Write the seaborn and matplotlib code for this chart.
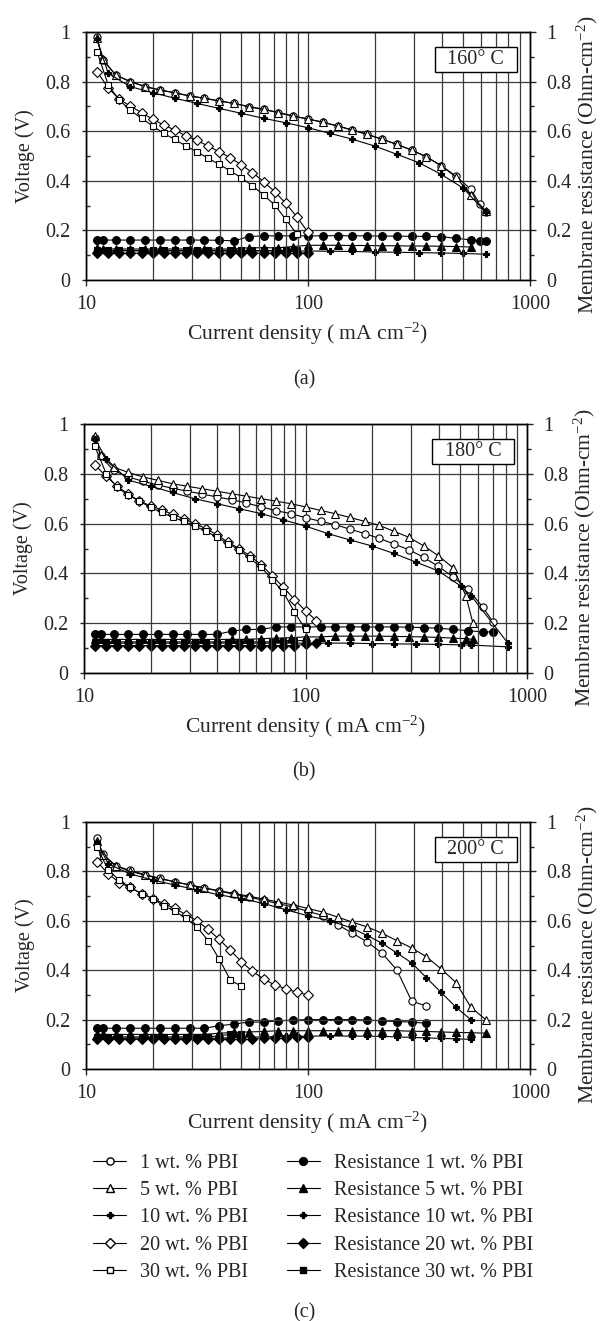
import matplotlib
matplotlib.use("Agg")
import matplotlib.pyplot as plt
import seaborn as sns
from matplotlib.lines import Line2D
from matplotlib.patches import Rectangle
from matplotlib.ticker import MultipleLocator, LogLocator, NullFormatter, FixedLocator

# ---------------- data ----------------
labels_v = ["1 wt. % PBI", "5 wt. % PBI", "10 wt. % PBI", "20 wt. % PBI", "30 wt. % PBI"]
labels_r = ["Resistance " + s for s in labels_v]
temps = ["160° C", "180° C", "200° C"]
captions = ["(a)", "(b)", "(c)"]

# panel (a) 160 C
a_x1 = [11.2, 11.9, 13.6, 15.8, 18.5, 21.5, 25.1, 29.3, 34.1, 39.8, 46.4, 54.1, 63.1, 73.6, 85.8,
        100, 117, 136, 158, 185, 215, 251, 293, 341, 398, 464, 541, 596, 631]
a_v1 = [0.98, 0.887, 0.827, 0.80, 0.78, 0.766, 0.755, 0.742, 0.733, 0.722, 0.712, 0.699, 0.688, 0.675, 0.661,
        0.649, 0.636, 0.621, 0.605, 0.587, 0.568, 0.547, 0.524, 0.497, 0.461, 0.419, 0.366, 0.306, 0.273]
a_r1 = [0.161, 0.161, 0.161, 0.161, 0.161, 0.161, 0.161, 0.161, 0.161, 0.16, 0.158, 0.175, 0.178, 0.178, 0.178,
        0.178, 0.178, 0.179, 0.178, 0.178, 0.177, 0.177, 0.176, 0.176, 0.175, 0.168, 0.162, 0.158, 0.158]
a_x5 = [11.2, 11.9, 13.6, 15.8, 18.5, 21.5, 25.1, 29.3, 34.1, 39.8, 46.4, 54.1, 63.1, 73.6, 85.8,
        100, 117, 136, 158, 185, 215, 251, 293, 341, 398, 464, 541, 631]
a_v5 = [0.975, 0.89, 0.827, 0.80, 0.78, 0.766, 0.755, 0.742, 0.733, 0.722, 0.712, 0.699, 0.688, 0.675, 0.661,
        0.649, 0.636, 0.621, 0.605, 0.587, 0.568, 0.547, 0.524, 0.497, 0.461, 0.415, 0.343, 0.28]
a_r5 = [0.128, 0.127, 0.125, 0.125, 0.125, 0.125, 0.125, 0.125, 0.125, 0.125, 0.125, 0.13, 0.13, 0.13, 0.135,
        0.14, 0.14, 0.14, 0.139, 0.139, 0.138, 0.138, 0.137, 0.137, 0.136, 0.135, 0.133]
a_x10 = [11.2, 12.6, 15.8, 20.0, 25.1, 31.6, 39.8, 50.1, 63.1, 79.4, 100, 126, 158, 200, 251, 316, 398, 501, 631]
a_v10 = [0.97, 0.833, 0.78, 0.755, 0.733, 0.712, 0.692, 0.672, 0.652, 0.634, 0.614, 0.591, 0.568, 0.540,
         0.507, 0.473, 0.426, 0.37, 0.273]
a_r10 = [0.12, 0.118, 0.118, 0.117, 0.117, 0.117, 0.117, 0.117, 0.117, 0.117, 0.117, 0.116, 0.115, 0.113,
         0.112, 0.11, 0.109, 0.107, 0.104]
a_x20 = [11.2, 12.6, 14.1, 15.8, 17.8, 20.0, 22.4, 25.1, 28.2, 31.6, 35.5, 39.8, 44.7, 50.1, 56.2, 63.1,
         70.8, 79.4, 89.1, 100]
a_v20 = [0.84, 0.775, 0.729, 0.702, 0.675, 0.648, 0.625, 0.605, 0.581, 0.563, 0.540, 0.517, 0.493, 0.464,
         0.433, 0.397, 0.356, 0.309, 0.255, 0.192]
a_r20 = [0.108, 0.108, 0.108, 0.108, 0.108, 0.108, 0.108, 0.108, 0.108, 0.108, 0.108, 0.108, 0.108, 0.108,
         0.108, 0.108, 0.108, 0.108, 0.108, 0.11]
a_x30 = [11.2, 12.6, 14.1, 15.8, 17.8, 20.0, 22.4, 25.1, 28.2, 31.6, 35.5, 39.8, 44.7, 50.1, 56.2, 63.1,
         70.8, 79.4, 89.1]
a_v30 = [0.921, 0.786, 0.726, 0.685, 0.652, 0.621, 0.591, 0.567, 0.540, 0.517, 0.491, 0.466, 0.44, 0.412,
         0.38, 0.343, 0.302, 0.245, 0.185]
a_r30 = [0.12, 0.12, 0.12, 0.12, 0.12, 0.12, 0.12, 0.12, 0.12, 0.12, 0.12, 0.12, 0.12, 0.12, 0.12, 0.12,
         0.12, 0.12, 0.12]

# panel (b) 180 C
b_x1 = [11.2, 11.9, 13.6, 15.8, 18.5, 21.5, 25.1, 29.3, 34.1, 39.8, 46.4, 54.1, 63.1, 73.6, 85.8,
        100, 117, 136, 158, 185, 215, 251, 293, 341, 398, 464, 541, 631, 705]
b_v1 = [0.944, 0.87, 0.814, 0.787, 0.77, 0.755, 0.742, 0.73, 0.719, 0.707, 0.696, 0.683, 0.667, 0.652, 0.64,
        0.624, 0.609, 0.596, 0.578, 0.56, 0.541, 0.518, 0.495, 0.465, 0.428, 0.386, 0.337, 0.265, 0.203]
b_r1 = [0.155, 0.155, 0.155, 0.155, 0.155, 0.155, 0.155, 0.155, 0.155, 0.155, 0.168, 0.175, 0.175, 0.185, 0.185,
        0.185, 0.185, 0.185, 0.185, 0.185, 0.185, 0.185, 0.184, 0.182, 0.18, 0.175, 0.17, 0.165, 0.165]
b_x5 = [11.2, 11.9, 13.6, 15.8, 18.5, 21.5, 25.1, 29.3, 34.1, 39.8, 46.4, 54.1, 63.1, 73.6, 85.8,
        100, 117, 136, 158, 185, 215, 251, 293, 341, 398, 464, 530, 570]
b_v5 = [0.95, 0.875, 0.827, 0.806, 0.787, 0.774, 0.76, 0.75, 0.74, 0.73, 0.72, 0.71, 0.70, 0.69, 0.68,
        0.667, 0.653, 0.64, 0.625, 0.609, 0.593, 0.569, 0.545, 0.511, 0.471, 0.422, 0.31, 0.20]
b_r5 = [0.135, 0.135, 0.135, 0.135, 0.135, 0.135, 0.135, 0.135, 0.135, 0.135, 0.135, 0.135, 0.138, 0.14, 0.142,
        0.145, 0.145, 0.148, 0.148, 0.148, 0.148, 0.147, 0.146, 0.145, 0.143, 0.14, 0.138, 0.135]
b_x10 = [11.2, 12.6, 15.8, 20.0, 25.1, 31.6, 39.8, 50.1, 63.1, 79.4, 100, 126, 158, 200, 251, 316, 398, 501,
         560, 820]
b_v10 = [0.94, 0.86, 0.775, 0.75, 0.725, 0.70, 0.68, 0.66, 0.64, 0.615, 0.59, 0.56, 0.535, 0.51, 0.48,
         0.445, 0.41, 0.35, 0.31, 0.12]
b_r10 = [0.12, 0.12, 0.12, 0.12, 0.12, 0.12, 0.12, 0.12, 0.12, 0.12, 0.12, 0.12, 0.12, 0.118, 0.117,
         0.116, 0.115, 0.113, 0.112, 0.105]
b_x20 = [11.2, 12.6, 14.1, 15.8, 17.8, 20.0, 22.4, 25.1, 28.2, 31.6, 35.5, 39.8, 44.7, 50.1, 56.2, 63.1,
         70.8, 79.4, 89.1, 100, 112]
b_v20 = [0.835, 0.79, 0.75, 0.72, 0.69, 0.672, 0.655, 0.637, 0.62, 0.60, 0.58, 0.555, 0.525, 0.50, 0.47,
         0.435, 0.39, 0.345, 0.295, 0.25, 0.21]
b_r20 = [0.11, 0.11, 0.11, 0.11, 0.11, 0.11, 0.11, 0.11, 0.11, 0.11, 0.11, 0.11, 0.11, 0.11, 0.11, 0.11,
         0.11, 0.11, 0.11, 0.115, 0.12]
b_x30 = [11.2, 12.6, 14.1, 15.8, 17.8, 20.0, 22.4, 25.1, 28.2, 31.6, 35.5, 39.8, 44.7, 50.1, 56.2, 63.1,
         70.8, 79.4, 89.1, 100]
b_v30 = [0.91, 0.80, 0.745, 0.715, 0.69, 0.665, 0.645, 0.625, 0.61, 0.59, 0.57, 0.545, 0.52, 0.495, 0.46,
         0.425, 0.375, 0.325, 0.245, 0.175]
b_r30 = [0.125, 0.125, 0.125, 0.125, 0.125, 0.125, 0.125, 0.125, 0.125, 0.125, 0.125, 0.125, 0.125, 0.125,
         0.125, 0.125, 0.125, 0.13, 0.13, 0.13]

# panel (c) 200 C
c_x1 = [11.2, 11.9, 13.6, 15.8, 18.5, 21.5, 25.1, 29.3, 34.1, 39.8, 46.4, 54.1, 63.1, 73.6, 85.8,
        100, 117, 136, 158, 185, 215, 251, 293, 341]
c_v1 = [0.935, 0.872, 0.823, 0.804, 0.787, 0.772, 0.758, 0.745, 0.733, 0.72, 0.708, 0.696, 0.683, 0.669, 0.656,
        0.638, 0.621, 0.584, 0.551, 0.514, 0.47, 0.402, 0.275, 0.255]
c_r1 = [0.165, 0.165, 0.165, 0.165, 0.165, 0.165, 0.165, 0.165, 0.165, 0.175, 0.182, 0.19, 0.19, 0.195, 0.198,
        0.2, 0.2, 0.2, 0.2, 0.198, 0.195, 0.192, 0.19, 0.185]
c_x5 = [11.2, 11.9, 13.6, 15.8, 18.5, 21.5, 25.1, 29.3, 34.1, 39.8, 46.4, 54.1, 63.1, 73.6, 85.8,
        100, 117, 136, 158, 185, 215, 251, 293, 341, 398, 464, 541, 631]
c_v5 = [0.925, 0.865, 0.823, 0.80, 0.785, 0.77, 0.758, 0.745, 0.733, 0.722, 0.711, 0.70, 0.688, 0.676, 0.664,
        0.65, 0.635, 0.615, 0.595, 0.575, 0.55, 0.52, 0.49, 0.455, 0.405, 0.35, 0.25, 0.20]
c_r5 = [0.14, 0.14, 0.14, 0.14, 0.14, 0.14, 0.14, 0.14, 0.14, 0.145, 0.148, 0.15, 0.152, 0.155, 0.155,
        0.155, 0.155, 0.155, 0.155, 0.155, 0.155, 0.155, 0.153, 0.152, 0.15, 0.148, 0.147, 0.145]
c_x10 = [11.2, 12.6, 15.8, 20.0, 25.1, 31.6, 39.8, 50.1, 63.1, 79.4, 100, 126, 158, 185, 215, 251, 293,
         341, 398, 464, 541]
c_v10 = [0.92, 0.83, 0.79, 0.765, 0.745, 0.725, 0.705, 0.69, 0.67, 0.645, 0.62, 0.6, 0.57, 0.54, 0.51,
         0.47, 0.43, 0.37, 0.31, 0.25, 0.20]
c_r10 = [0.125, 0.125, 0.125, 0.125, 0.125, 0.125, 0.125, 0.128, 0.13, 0.132, 0.133, 0.134, 0.133, 0.133,
         0.132, 0.13, 0.128, 0.126, 0.124, 0.122, 0.12]
c_x20 = [11.2, 12.6, 14.1, 15.8, 17.8, 20.0, 22.4, 25.1, 28.2, 31.6, 35.5, 39.8, 44.7, 50.1, 56.2, 63.1,
         70.8, 79.4, 89.1, 100]
c_v20 = [0.84, 0.79, 0.755, 0.735, 0.71, 0.69, 0.67, 0.65, 0.625, 0.60, 0.565, 0.525, 0.48, 0.435, 0.395,
         0.365, 0.34, 0.325, 0.31, 0.30]
c_r20 = [0.12, 0.12, 0.12, 0.12, 0.12, 0.12, 0.12, 0.12, 0.12, 0.12, 0.12, 0.12, 0.12, 0.12, 0.12, 0.125,
         0.125, 0.125, 0.13, 0.13]
c_x30 = [11.2, 12.6, 14.1, 15.8, 17.8, 20.0, 22.4, 25.1, 28.2, 31.6, 35.5, 39.8, 44.7, 50.1]
c_v30 = [0.90, 0.805, 0.765, 0.735, 0.71, 0.69, 0.66, 0.64, 0.61, 0.575, 0.52, 0.445, 0.36, 0.335]
c_r30 = [0.13, 0.13, 0.13, 0.13, 0.13, 0.13, 0.13, 0.13, 0.13, 0.13, 0.13, 0.135, 0.14, 0.14]

panels = [
    ([(a_x1, a_v1), (a_x5, a_v5), (a_x10, a_v10), (a_x20, a_v20), (a_x30, a_v30)],
     [(a_x1, a_r1), (a_x5[:len(a_r5)], a_r5), (a_x10, a_r10), (a_x20, a_r20), (a_x30, a_r30)]),
    ([(b_x1, b_v1), (b_x5, b_v5), (b_x10, b_v10), (b_x20, b_v20), (b_x30, b_v30)],
     [(b_x1, b_r1), (b_x5, b_r5), (b_x10, b_r10), (b_x20, b_r20), (b_x30, b_r30)]),
    ([(c_x1, c_v1), (c_x5, c_v5), (c_x10, c_v10), (c_x20, c_v20), (c_x30, c_v30)],
     [(c_x1, c_r1), (c_x5, c_r5), (c_x10, c_r10), (c_x20, c_r20), (c_x30, c_r30)]),
]

# ---------------- styling ----------------
sns.set_style("ticks")
plt.rcParams['font.family'] = ['Liberation Serif', 'DejaVu Serif']
plt.rcParams['mathtext.fontset'] = 'custom'
plt.rcParams['mathtext.rm'] = 'Liberation Serif'
plt.rcParams['mathtext.it'] = 'Liberation Serif:italic'
FS = 14.5      # tick labels, legend, captions
FL = 15.6      # axis labels

# marker, size, open?
v_style = [('o', 5.2, True), ('^', 5.6, True), ('P', 4.2, False), ('D', 4.6, True), ('s', 5.0, True)]
r_style = [('o', 5.6, False), ('^', 5.8, False), ('P', 4.2, False), ('D', 5.0, False), ('s', 5.0, False)]

W, H = 600, 1321
fig = plt.figure(figsize=(W / 100, H / 100), dpi=100)

# axes boxes in pixels: left, top, right, bottom
boxes = [(86, 32, 530, 280), (84, 424, 527, 673), (86, 822, 530, 1069)]
cap_y = [380, 772]


def draw_series(ax, x, y, style):
    m, ms, is_open = style
    sns.lineplot(x=x, y=y, ax=ax, color='black', lw=0.8, marker=m, markersize=ms,
                 markerfacecolor='white' if is_open else 'black', markeredgecolor='black',
                 markeredgewidth=0.8, legend=False, estimator=None, sort=False)


for i, (volt, res) in enumerate(panels):
    l, t, r, b = boxes[i]
    ax = fig.add_axes([l / W, 1 - b / H, (r - l) / W, (b - t) / H])
    ax2 = ax.twinx()
    for (x, y), st in zip(res, r_style):
        draw_series(ax2, x, y, st)
    for (x, y), st in zip(volt, v_style):
        draw_series(ax, x, y, st)
    ax.set_zorder(ax2.get_zorder() + 1)
    ax.patch.set_visible(False)

    for a in (ax, ax2):
        a.set_xscale('log')
        a.set_xlim(10, 1000)
        a.set_ylim(0, 1)
        a.yaxis.set_major_locator(MultipleLocator(0.2))
        a.yaxis.set_minor_locator(MultipleLocator(0.1))
        a.yaxis.set_major_formatter(plt.FuncFormatter(lambda v, p: '%g' % round(v, 1)))
        for s in a.spines.values():
            s.set_linewidth(1.0)
            s.set_color('black')
            s.set_visible(True)
    ax.xaxis.set_major_locator(FixedLocator([10, 100, 1000]))
    ax.xaxis.set_major_formatter(plt.FuncFormatter(lambda v, p: '%d' % v))
    ax.xaxis.set_minor_locator(LogLocator(base=10, subs=range(2, 10)))
    ax.xaxis.set_minor_formatter(NullFormatter())
    ax.grid(True, which='both', axis='x', color='#3a3a3a', lw=0.9)
    ax.grid(True, which='major', axis='y', color='#3a3a3a', lw=0.9)
    ax.set_axisbelow(True)

    ax.tick_params(axis='x', which='major', direction='out', length=4, width=1, labelsize=FS, pad=7)
    ax.tick_params(axis='x', which='minor', length=0)
    ax.tick_params(axis='y', which='major', direction='out', length=3, width=1, labelsize=FS, pad=8)
    ax.tick_params(axis='y', which='minor', direction='in', length=3, width=1)
    ax2.tick_params(axis='y', which='major', direction='out', length=4, width=1, labelsize=FS, pad=8)
    ax2.tick_params(axis='y', which='minor', direction='out', length=3, width=1)

    ax.set_xlabel('Current density ( mA cm$^{-2}$)', fontsize=FL)
    ax.xaxis.set_label_coords(0.5, -0.165)
    ax.set_ylabel('Voltage (V)', fontsize=FS)
    ax.yaxis.set_label_coords(-0.115, 0.5)
    ax2.set_ylabel('Membrane resistance (Ohm-cm$^{-2}$)', fontsize=FL)
    ax2.yaxis.set_label_coords(1.1, 0.465)

    # temperature box
    ax.add_patch(Rectangle((0.786, 0.839), 0.185, 0.101, transform=ax.transAxes, fc='white',
                           ec='black', lw=1.0, zorder=5))
    ax.text(0.878, 0.889, temps[i], transform=ax.transAxes, ha='center', va='center', fontsize=FS,
            zorder=6)

    if i < 2:
        fig.text(0.507, 1 - cap_y[i] / H, captions[i], ha='center', va='center', fontsize=FS)

fig.text(0.507, 1 - 1313 / H, captions[2], ha='center', va='center', fontsize=FS)

# legend
handles = []
for st in v_style:
    m, ms, is_open = st
    handles.append(Line2D([], [], color='black', lw=0.8, marker=m, markersize=ms,
                          markerfacecolor='white' if is_open else 'black', markeredgecolor='black'))
for st in r_style:
    m, ms, is_open = st
    handles.append(Line2D([], [], color='black', lw=0.8, marker=m, markersize=ms,
                          markerfacecolor='black', markeredgecolor='black'))
fig.legend(handles, labels_v + labels_r, ncol=2, loc='upper left', bbox_to_anchor=(93 / W, 1 - 1154 / H),
           frameon=False, fontsize=FS, handlelength=1.65, handletextpad=0.7, columnspacing=1.9,
           labelspacing=0.4, borderpad=0, borderaxespad=0)

fig.savefig('out.png', dpi=100)
